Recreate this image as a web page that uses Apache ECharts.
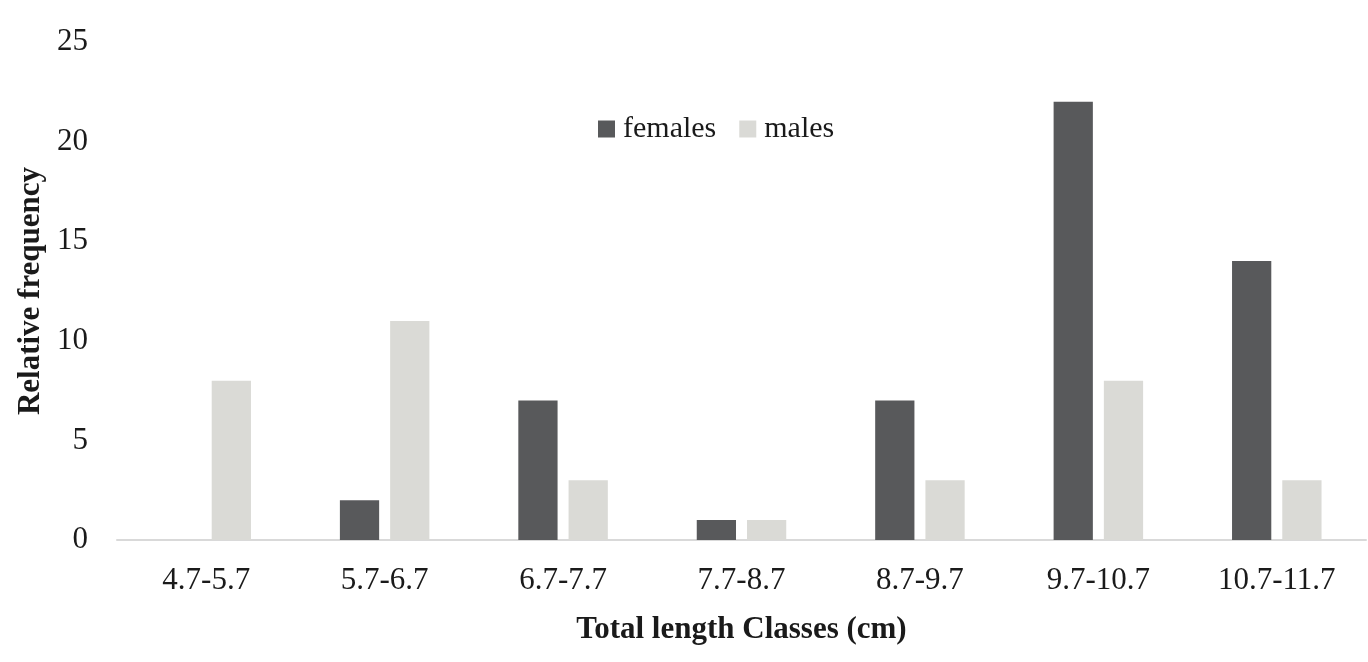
<!DOCTYPE html>
<html>
<head>
<meta charset="utf-8">
<script src="https://cdn.jsdelivr.net/npm/echarts@6/dist/echarts.min.js"></script>
<style>
html,body{margin:0;padding:0;background:#fff;}
#chart{width:1368px;height:662px;}
</style>
</head>
<body>
<div id="chart"></div>
<script>
const categories = ['4.7-5.7','5.7-6.7','6.7-7.7','7.7-8.7','8.7-9.7','9.7-10.7','10.7-11.7'];
const females = [0, 2, 7, 1, 7, 22, 14];
const males = [8, 11, 3, 1, 3, 8, 3];
const yTicks = {min: 0, max: 25, interval: 5};

const font = 'Liberation Serif, Times New Roman, serif';
const textColor = '#1a1a1a';
const chart = echarts.init(document.getElementById('chart'));
chart.setOption({
  animation: false,
  backgroundColor: '#ffffff',
  textStyle: {fontFamily: font},
  legend: {
    data: ['females', 'males'],
    left: 598, top: 114,
    padding: 0,
    itemWidth: 17, itemHeight: 17, itemGap: 23,
    icon: 'rect',
    textStyle: {fontFamily: font, fontSize: 30, color: textColor, padding: [0,0,0,3]}
  },
  grid: {left: 117, right: 2, top: 42, bottom: 122, containLabel: false},
  xAxis: {
    type: 'category',
    data: categories,
    axisLine: {show: true, lineStyle: {color: '#d9d9d9', width: 2}},
    axisTick: {show: false},
    axisLabel: {fontFamily: font, fontSize: 31, color: textColor, margin: 25},
    name: 'Total length Classes (cm)',
    nameLocation: 'middle',
    nameGap: 74,
    nameTextStyle: {fontFamily: font, fontSize: 31, fontWeight: 'bold', color: textColor}
  },
  yAxis: {
    type: 'value',
    min: yTicks.min, max: yTicks.max, interval: yTicks.interval,
    axisLine: {show: false},
    axisTick: {show: false},
    splitLine: {show: false},
    axisLabel: {fontFamily: font, fontSize: 31, color: textColor, margin: 29},
    name: 'Relative frequency',
    nameLocation: 'middle',
    nameGap: 70,
    nameTextStyle: {fontFamily: font, fontSize: 31, fontWeight: 'bold', color: textColor}
  },
  series: [
    {
      name: 'females', type: 'bar', data: females,
      barWidth: '22%', barGap: '28%',
      itemStyle: {color: '#58595b'}
    },
    {
      name: 'males', type: 'bar', data: males,
      barWidth: '22%', barGap: '28%',
      itemStyle: {color: '#dadad6'}
    }
  ]
});
</script>
</body>
</html>
